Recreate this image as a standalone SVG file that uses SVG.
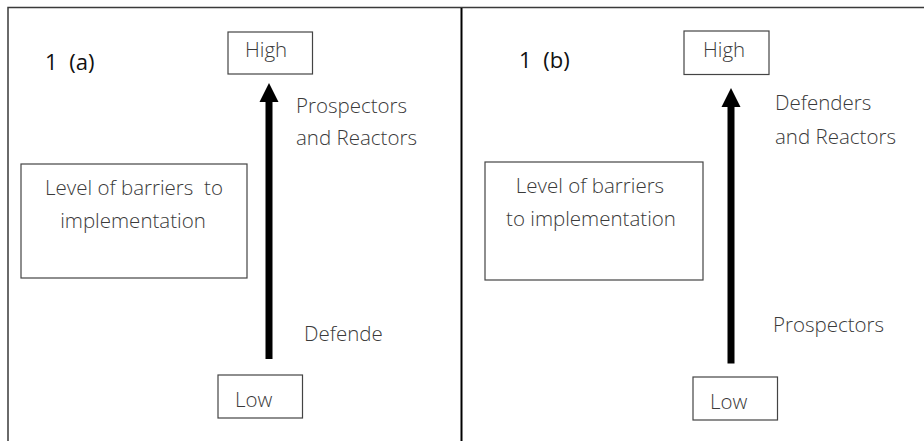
<svg xmlns="http://www.w3.org/2000/svg" width="924" height="441" viewBox="0 0 924 441">
<style>
.frame{fill:none;stroke:#3a3a3a;stroke-width:1.5}
.div{fill:none;stroke:#000;stroke-width:2}
.box{fill:#fff;stroke:#444;stroke-width:1.2}
.t{font-family:"Open Sans","Noto Sans","Liberation Sans",sans-serif;font-size:20.5px;font-weight:300;fill:#3a3a3a}
.m{text-anchor:middle}
.h{font-family:"Open Sans","Noto Sans","Liberation Sans",sans-serif;font-size:22px;font-weight:500;fill:#111;word-spacing:6px}
.arr{stroke:#000;stroke-width:7;fill:none}
</style>
<defs>
<marker id="ah" viewBox="0 0 20 20" refX="0" refY="10" markerUnits="userSpaceOnUse" markerWidth="19" markerHeight="20" orient="auto">
<path d="M0,0 L20,10 L0,20 z" fill="#000"/>
</marker>
</defs>
<rect width="924" height="441" fill="#fff"/>
<g id="frame">
<path class="frame" d="M8,441 V7.5 H924"/>
<path class="div" d="M461.5,8 V441"/>
</g>
<g id="panel-a-title"><text class="h" x="45" y="70">1 (a)</text></g>
<g id="panel-b-title"><text class="h" x="519" y="68">1 (b)</text></g>
<g id="high-a">
<rect class="box" x="228" y="32" width="84.5" height="42"/>
<text class="t" x="245" y="57">High</text>
</g>
<g id="low-a">
<rect class="box" x="218" y="375" width="84.5" height="43"/>
<text class="t" x="235" y="407">Low</text>
</g>
<g id="level-a">
<rect class="box" x="21" y="164" width="226" height="114"/>
<text class="t m" x="134" y="195" xml:space="preserve">Level of barriers  to</text>
<text class="t m" x="133" y="228">implementation</text>
</g>
<g id="high-b">
<rect class="box" x="684" y="31" width="85" height="43.5"/>
<text class="t" x="703" y="57">High</text>
</g>
<g id="low-b">
<rect class="box" x="693" y="377" width="84.5" height="43"/>
<text class="t" x="710" y="409">Low</text>
</g>
<g id="level-b">
<rect class="box" x="485" y="162" width="218" height="118"/>
<text class="t m" x="590" y="193">Level of barriers</text>
<text class="t m" x="591" y="226">to implementation</text>
</g>
<g id="labels-a">
<text class="t" x="296" y="113">Prospectors</text>
<text class="t" x="296" y="145">and Reactors</text>
<text class="t" x="304" y="341">Defende</text>
</g>
<g id="labels-b">
<text class="t" x="775" y="110">Defenders</text>
<text class="t" x="775" y="144">and Reactors</text>
<text class="t" x="773" y="332">Prospectors</text>
</g>
<g id="connectors">
<line class="arr" x1="269" y1="359" x2="269" y2="102" marker-end="url(#ah)"/>
<line class="arr" x1="731" y1="363.5" x2="731" y2="107" marker-end="url(#ah)"/>
</g>
</svg>
